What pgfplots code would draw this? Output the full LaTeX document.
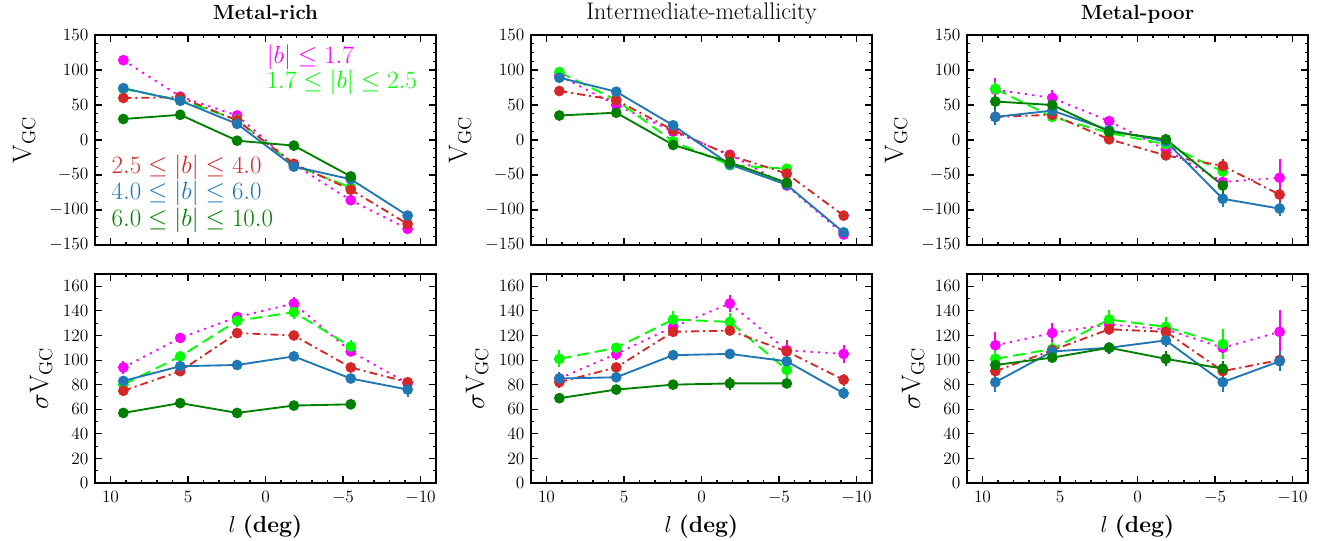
\RequirePackage{fix-cm}
\documentclass[border=0pt]{standalone}
\usepackage{pgfplots}
\usepackage{pgfplotstable}
\pgfplotsset{compat=1.18}
\definecolor{cM}{HTML}{FF00FF}
\definecolor{cL}{HTML}{00FF00}
\definecolor{cR}{HTML}{D62728}
\definecolor{cB}{HTML}{1F77B4}
\definecolor{cD}{HTML}{008000}

% columns: l, magenta, lime, red, blue, darkgreen (value + error)
\pgfplotstableread{
l      m     me  g     ge   r     re  b     be  d    de
9.17   114   4   73    3    60    3   74    3   30   3
5.5    62    3   57    3    61    3   56    3   36   3
1.83   35    4   29    3    28    3   23    3   -1   3
-1.83  -35   4   -36   3    -34   3   -38   3   -8   3
-5.5   -86   4   -68   4    -71   4   -56   3   -52  3
-9.17  -127  4   nan   nan  -120  4   -108  4   nan  nan
}\tA
\pgfplotstableread{
l      m     me  g     ge   r     re  b     be  d    de
9.17   94    5   80    5    75    3   83    4   57   4
5.5    118   3   103   3    91    3   95    3   65   3
1.83   135   4   132   5    122   3   96    3   57   3
-1.83  146   5   139   6    120   3   103   3   63   4
-5.5   107   4   111   5    94    3   85    4   64   3
-9.17  81    4   nan   nan  82    4   76    6   nan  nan
}\tB
\pgfplotstableread{
l      m     me  g     ge   r     re  b     be  d    de
9.17   92    5   97    5    70    5   89    5   35   4
5.5    50    5   57    5    57    5   69    4   39   4
1.83   12    5   -2    5    14    5   21    4   -7   4
-1.83  -21   6   -36   5    -22   5   -35   4   -32  4
-5.5   -65   6   -41   5    -48   5   -64   5   -61  4
-9.17  -135  7   nan   nan  -108  6   -132  5   nan  nan
}\tC
\pgfplotstableread{
l      m     me  g     ge   r     re  b     be  d    de
9.17   85    5   101   7    82    5   85    5   69   4
5.5    105   5   110   4    94    4   86    4   76   3
1.83   127   5   133   7    123   4   104   4   80   4
-1.83  146   7   131   7    124   4   105   4   81   5
-5.5   108   6   92    7    107   9   99    6   81   3
-9.17  105   7   nan   nan  84    5   73    5   nan  nan
}\tD
\pgfplotstableread{
l      m     me  g     ge   r     re  b     be  d    de
9.17   72    16  73    10   33    8   33    12  55   10
5.5    60    11  33    6    36    6   42    7   50   7
1.83   27    8   10    6    1     5   14    6   12   6
-1.83  -14   8   -6    6    -22   5   -2    6   1    6
-5.5   -60   10  -45   8    -37   10  -84   12  -65  10
-9.17  -54   27  nan   nan  -78   10  -98   10  nan  nan
}\tE
\pgfplotstableread{
l      m     me  g     ge   r     re  b     be  d    de
9.17   112   11  101   8    91    6   82    8   96   6
5.5    122   8   109   6    108   5   107   5   102  4
1.83   129   6   133   8    125   5   110   5   110  5
-1.83  125   7   127   8    123   6   116   5   101  6
-5.5   110   7   113   12   91    6   82    8   93   6
-9.17  123   18  nan   nan  100   6   99    8   nan  nan
}\tF

\pgfplotsset{
  ser/.style={color=#1, line width=1.4pt, mark=*, mark size=3.3pt,
    mark options={solid, fill=#1, draw=#1},
    error bars/y dir=both, error bars/y explicit, error bars/error mark=none,
    error bars/error bar style={solid, line width=1.4pt, color=#1}},
  panel/.style={scale only axis, width=255.75pt,
    x dir=reverse, xmin=-11, xmax=11, xtick={-10,-5,0,5,10},
    minor x tick num=4, tick align=inside,
    major tick length=5.25pt, minor tick length=2.6pt,
    axis line style={line width=1.2pt},
    every tick/.style={line width=0.8pt, black},
    tick label style={font=\fontsize{13}{13}\selectfont},
    xticklabel style={yshift=-2.5pt},
    yticklabel style={xshift=-1.5pt},
    title style={at={(rel axis cs:0.5,1)}, anchor=base, yshift=6pt},
    ylabel style={font=\fontsize{20}{20}\selectfont},
    xlabel style={font=\fontsize{17.3}{17.3}\selectfont},
  },
  toprow/.style={panel, height=157.5pt, ymin=-150, ymax=150,
    ytick={-150,-100,...,150}, minor y tick num=3, xticklabels={},
    ylabel={$\mathrm{V_{GC}}$},
    ylabel style={at={(rel axis cs:-0.208,0.5)}, anchor=center}},
  botrow/.style={panel, height=156.75pt, ymin=0, ymax=170,
    ytick={0,20,...,160}, minor y tick num=1,
    ylabel={$\sigma\mathrm{V_{GC}}$},
    ylabel style={at={(rel axis cs:-0.158,0.5)}, anchor=center},
    xlabel={$l$ \textbf{(deg)}},
    xlabel style={at={(rel axis cs:0.5,0)}, anchor=center, yshift=-33pt}},
  boldtitle/.style={title style={font=\fontsize{15.4}{16}\selectfont\bfseries}},
  regtitle/.style={title style={font=\fontsize{18}{18}\selectfont}},
}
\newcommand{\fiveplots}[1]{%
  \addplot[ser=cM, dash pattern=on 1.6pt off 4pt] table[x=l,y=m,y error=me]{#1};
  \addplot[ser=cL, dash pattern=on 9pt off 4.5pt] table[x=l,y=g,y error=ge]{#1};
  \addplot[ser=cR, dash pattern=on 6pt off 3pt on 1.5pt off 3pt] table[x=l,y=r,y error=re]{#1};
  \addplot[ser=cB] table[x=l,y=b,y error=be]{#1};
  \addplot[ser=cD] table[x=l,y=d,y error=de]{#1};
}
\newcommand{\legfont}{\fontsize{18.7}{18.7}\selectfont}

\begin{document}
\begin{tikzpicture}
\useasboundingbox (0,0) rectangle (991.5pt,-405pt);
% top row
\begin{axis}[toprow, boldtitle, at={(71.25pt,-26.25pt)}, anchor=north west,
  title={Metal-rich}]
\fiveplots{\tA}
\node[anchor=west, text=cM, font=\legfont] at (rel axis cs:0.49,0.895) {$|b|\leq 1.7$};
\node[anchor=west, text=cL, font=\legfont] at (rel axis cs:0.49,0.776) {$1.7\leq |b|\leq 2.5$};
\node[anchor=west, text=cR, font=\legfont] at (rel axis cs:0.035,0.371) {$2.5\leq |b|\leq 4.0$};
\node[anchor=west, text=cB, font=\legfont] at (rel axis cs:0.035,0.248) {$4.0\leq |b|\leq 6.0$};
\node[anchor=west, text=cD, font=\legfont] at (rel axis cs:0.035,0.119) {$6.0\leq |b|\leq 10.0$};
\end{axis}
\begin{axis}[toprow, regtitle, at={(398.25pt,-26.25pt)}, anchor=north west,
  title={Intermediate-metallicity}]
\fiveplots{\tC}
\end{axis}
\begin{axis}[toprow, boldtitle, at={(725.25pt,-26.25pt)}, anchor=north west,
  title={Metal-poor}]
\fiveplots{\tE}
\end{axis}
% bottom row
\begin{axis}[botrow, at={(71.25pt,-205.5pt)}, anchor=north west]
\fiveplots{\tB}
\end{axis}
\begin{axis}[botrow, at={(398.25pt,-205.5pt)}, anchor=north west]
\fiveplots{\tD}
\end{axis}
\begin{axis}[botrow, at={(725.25pt,-205.5pt)}, anchor=north west]
\fiveplots{\tF}
\end{axis}
\end{tikzpicture}
\end{document}
